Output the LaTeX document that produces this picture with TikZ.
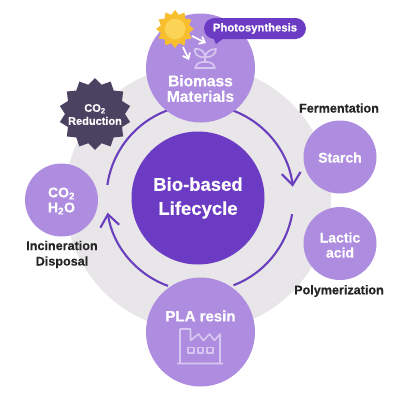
\documentclass[tikz,border=0pt]{standalone}
\usepackage{fontspec}
\setmainfont[BoldFeatures={FakeBold=0.5}]{Liberation Sans}
\usepackage{xcolor}
\usetikzlibrary{arrows.meta,shapes.geometric}
\definecolor{lilac}{HTML}{AE8DE0}
\definecolor{violetcore}{HTML}{6C3BC4}
\definecolor{violetline}{HTML}{6A3FBE}
\definecolor{inkstar}{HTML}{4B4160}
\definecolor{paleicon}{HTML}{D6C6F0}
\definecolor{disk}{HTML}{E8E6E8}
\definecolor{sunouter}{HTML}{F7BE2E}
\definecolor{suninner}{HTML}{FBD457}
\begin{document}
\begin{tikzpicture}[
  x=1pt,y=-1pt,
  big/.style={circle,fill=lilac,minimum size=109pt,inner sep=0pt},
  small/.style={circle,fill=lilac,minimum size=73pt,inner sep=0pt},
  smalltext/.style={text=white,align=center,font=\bfseries\fontsize{14}{15}\selectfont,inner sep=0pt},
  bigtext/.style={text=white,align=center,font=\bfseries\fontsize{15.5}{15.5}\selectfont,inner sep=0pt},
  lab/.style={text=black!85,align=center,font=\bfseries\fontsize{12.6}{15.5}\selectfont,inner sep=0pt},
  ring/.style={draw=violetline,line width=2.1pt},
  ringtip/.style={ring,-{Straight Barb[length=12pt,width=19pt,line width=2.1pt]}},
  icon/.style={draw=paleicon,line width=1.7pt,line join=round},
  sunarr/.style={draw=white,line width=1.7pt,-{Straight Barb[length=5pt,width=8pt,line width=1.7pt]}}
]
\useasboundingbox (0,0) rectangle (400,400);
\fill[white] (0,0) rectangle (400,400);
\node[circle,fill=disk,minimum size=266pt,inner sep=0pt] (disk) at (198,198) {};
\node[circle,fill=violetcore,text=white,align=center,minimum size=133pt,inner sep=0pt,font=\bfseries\fontsize{18.5}{24}\selectfont] (hub) at (198,198) {Bio-based\\Lifecycle};
% ring pieces
\coordinate (arcA) at (228.9,109.1);
\coordinate (arcB) at (107.4,185);
\coordinate (arcC) at (292.1,214.2);
\coordinate (arcD) at (168,285.9);
\draw[ringtip] (arcA) arc[start angle=-72,end angle=-7,radius=93.5];
\draw[ring] (arcC) arc[start angle=10,end angle=69,radius=93.5];
\draw[ringtip] (arcD) arc[start angle=110,end angle=171,radius=93.5];
\draw[ring] (arcB) arc[start angle=188,end angle=250,radius=93.5];
\node[big] (biomass) at (200.5,68) {};
\node[big] (pla) at (200.5,332) {};
\node[small] (starch) at (340,157) {};
\node[small] (lactic) at (340,243.5) {};
\node[small] (water) at (61.5,200) {};
\node[smalltext] (starchlabel) at (340,157.5) {Starch};
\node[smalltext] (lacticlabel) at (340,245) {Lactic\\acid};
\node[smalltext] (waterlabel) at (61.5,201) {CO\textsubscript{2}\\H\textsubscript{2}O};
\node[bigtext] (biolabel) at (200.5,88.5) {Biomass\\Materials};
\node[bigtext,font=\bfseries\fontsize{15}{18}\selectfont] (plalabel) at (200.5,316) {PLA resin};
\node[star,star points=14,star point ratio=1.2,fill=inkstar,minimum size=72pt,inner sep=0pt] (reduction) at (95,114) {};
\node[text=white,align=center,inner sep=0pt,font=\bfseries\fontsize{11}{13}\selectfont] (redlabel) at (95,114.5) {CO\textsubscript{2}\\Reduction};
\node[lab] (ferm) at (339,108) {Fermentation};
\node[lab] (poly) at (339,291) {Polymerization};
\node[lab] (burn) at (62,254.5) {Incineration\\Disposal};
% sun
\node[star,star points=12,star point ratio=1.3,fill=sunouter,minimum size=38pt,inner sep=0pt] (sunray) at (175,29) {};
\node[circle,fill=suninner,draw=sunouter,line width=1pt,minimum size=22pt,inner sep=0pt] (sun) at (175,29) {};
% bubble
\coordinate (tailL) at (213,37);
\coordinate (tailT) at (216,44);
\coordinate (tailR) at (224,38);
\fill[violetcore] (tailL) -- (tailT) -- (tailR) -- cycle;
\node[rectangle,rounded corners=10.5pt,fill=violetcore,text=white,minimum width=102pt,minimum height=21pt,inner sep=0pt,font=\bfseries\fontsize{11.3}{12}\selectfont] (bubble) at (255,28.5) {Photosynthesis};
% sun arrows
\coordinate (rayA) at (192,36);
\coordinate (rayAend) at (206,43);
\coordinate (rayB) at (183,47);
\coordinate (rayBend) at (189,60);
\draw[sunarr] (rayA) -- (rayAend);
\draw[sunarr] (rayB) -- (rayBend);
% plant
\draw[icon] (205,57) .. controls (198,58) and (194,54) .. (195,49) .. controls (201,48) and (205,52) .. (205,57) .. controls (206,52) and (210,49) .. (216,49) .. controls (216,54) and (211,58) .. (205,57) -- (205,62);
\draw[icon] (195,68) .. controls (197,62) and (201,62) .. (205,62) .. controls (209,62) and (213,62) .. (215,68) -- cycle;
% factory
\draw[icon] (177,363.5) -- (223,363.5) (180,363.5) -- (180,329) -- (190.5,329) -- (190.5,340.5) -- (198.5,334) -- (203.5,340.5) -- (209.5,334) -- (214.5,340.5) -- (220,334) -- (220,363.5);
\foreach \wx in {191,200.5,210}
  \draw[icon] (\wx-2.8,347.5) rectangle (\wx+2.8,353);
\end{tikzpicture}
\end{document}
